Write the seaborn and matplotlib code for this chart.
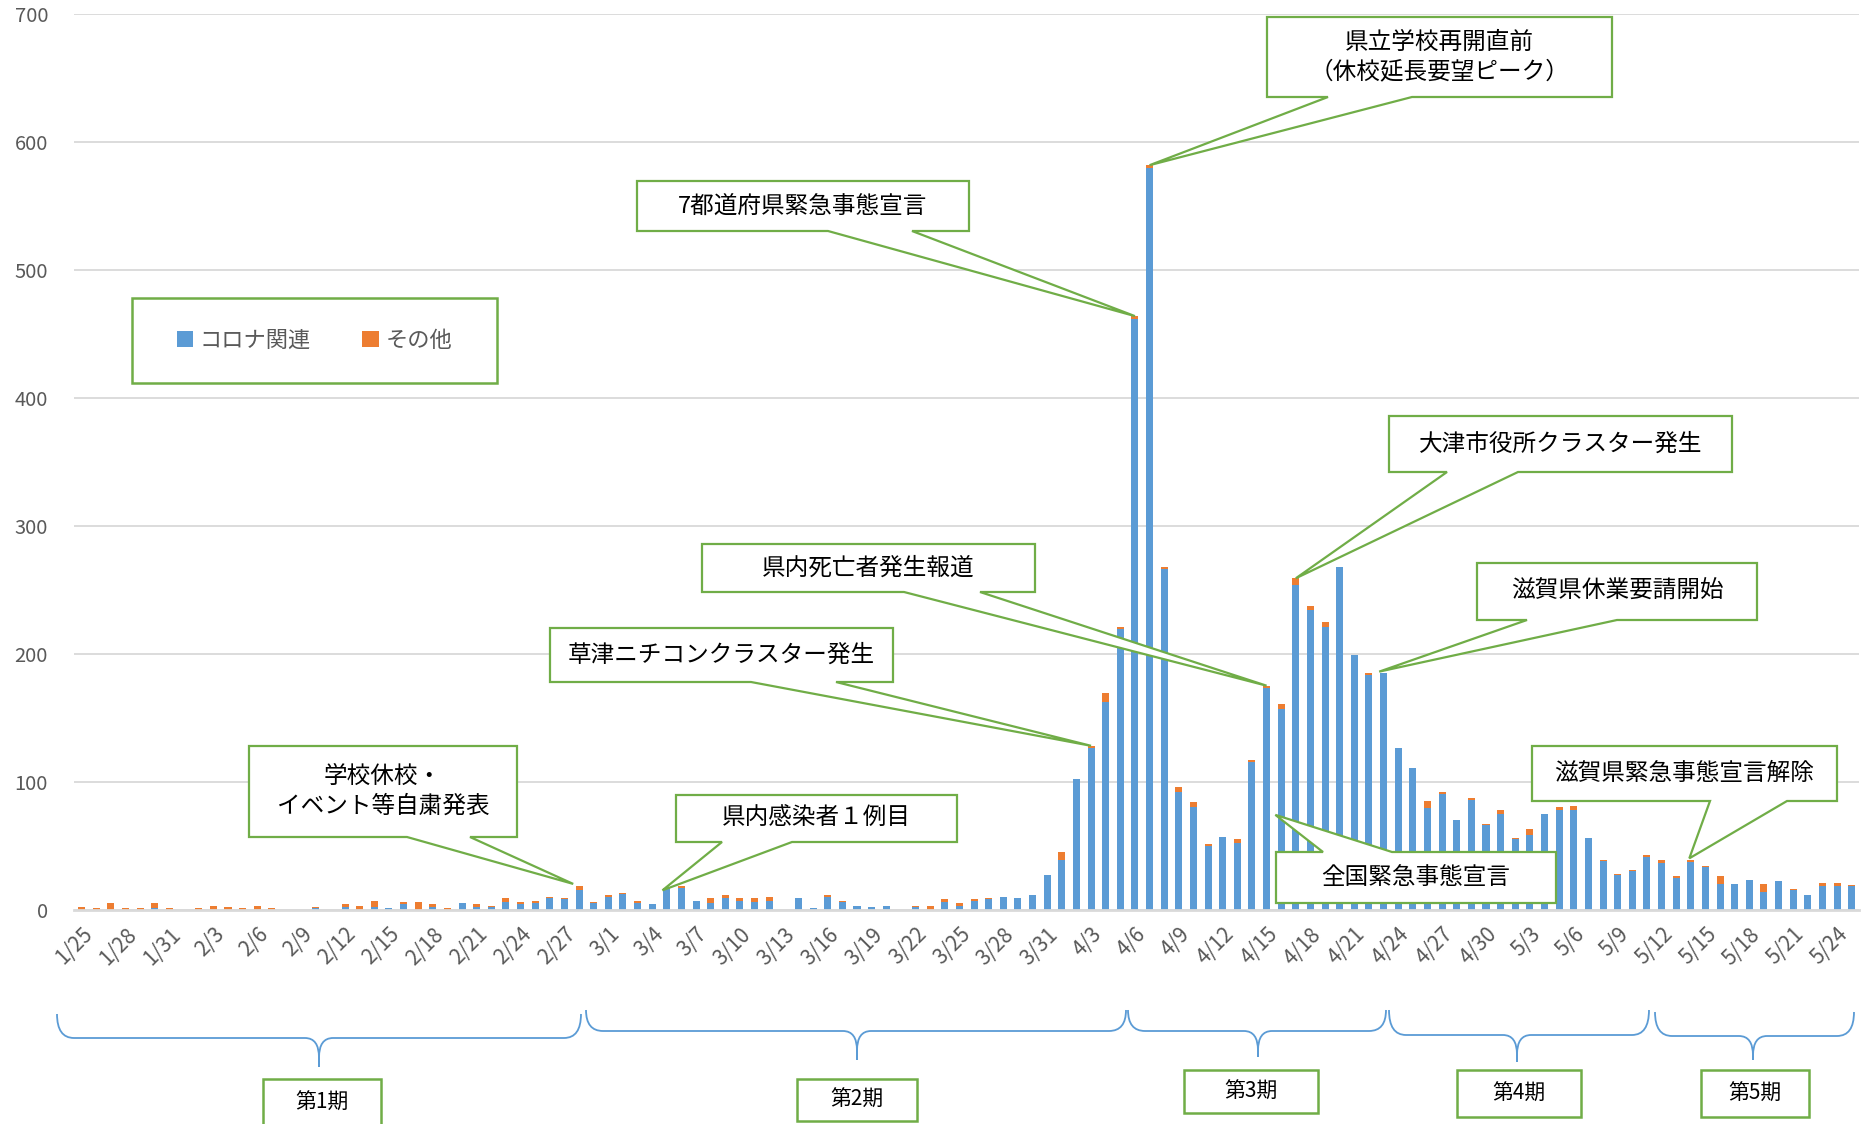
import numpy as np
import pandas as pd
import matplotlib
matplotlib.use("Agg")
import matplotlib.pyplot as plt
import seaborn as sns
from matplotlib.patches import Polygon, Rectangle, PathPatch
from matplotlib.path import Path

# -----------------------------
# data
# -----------------------------
dates = [f"{d.month}/{d.day}" for d in pd.date_range("2020-01-25", "2020-05-25")]

corona = [0, 0, 0, 0, 0, 1, 0, 0, 0, 0, 0, 0, 0, 0, 0, 0, 1, 0, 2, 0,
          2, 1, 4, 0, 2, 0, 5, 2, 2, 6, 4, 5, 9, 8, 15, 5, 10, 12, 5, 4,
          16, 17, 7, 5, 9, 7, 6, 7, 0, 9, 1, 10, 6, 3, 2, 3, 0, 2, 0, 6,
          3, 7, 8, 10, 9, 11, 27, 39, 102, 126, 162, 219, 462, 580, 266, 92, 80, 50, 57, 52,
          115, 173, 157, 254, 234, 221, 268, 199, 183, 185, 126, 111, 79, 90, 70, 86, 66, 75, 55, 58,
          75, 78, 78, 56, 38, 27, 30, 41, 36, 25, 37, 33, 20, 20, 23, 14, 22, 15, 11, 18,
          18, 18]
other = [2, 1, 5, 1, 1, 4, 1, 0, 1, 3, 2, 1, 3, 1, 0, 0, 1, 0, 2, 3,
         5, 0, 2, 6, 2, 1, 0, 2, 1, 3, 2, 2, 1, 1, 3, 1, 1, 1, 2, 0,
         1, 1, 0, 4, 2, 2, 3, 3, 0, 0, 0, 1, 1, 0, 0, 0, 0, 1, 3, 2,
         2, 1, 1, 0, 0, 0, 0, 6, 0, 2, 7, 2, 2, 2, 2, 4, 4, 1, 0, 3,
         2, 2, 4, 5, 3, 4, 0, 0, 2, 0, 0, 0, 6, 2, 0, 1, 1, 3, 1, 5,
         0, 2, 3, 0, 1, 1, 1, 2, 3, 1, 2, 1, 6, 0, 0, 6, 0, 1, 0, 3,
         3, 1]
tick_labels = dates[::3]
series_names = ["コロナ関連", "その他"]

callout_texts = ["県立学校再開直前\n（休校延長要望ピーク）", "7都道府県緊急事態宣言",
                 "大津市役所クラスター発生", "県内死亡者発生報道", "滋賀県休業要請開始",
                 "草津ニチコンクラスター発生", "学校休校・\nイベント等自粛発表",
                 "県内感染者１例目", "全国緊急事態宣言", "滋賀県緊急事態宣言解除"]
callout_dates = ["4/7", "4/6", "4/17", "4/15", "4/23", "4/3", "2/28", "3/5", "4/16", "5/14"]
callout_values = [582, 464, 259, 175, 186, 128, 20, 15, 74, 40]

period_labels = ["第1期", "第2期", "第3期", "第4期", "第5期"]

# -----------------------------
# layout (pixels of the 1869x1124 image)
# -----------------------------
W, H = 1869, 1124
BLUE, ORANGE, GREEN = "#5B9BD5", "#ED7D31", "#70AD47"
GRID, TXT = "#D9D9D9", "#595959"

# box x0, y0, x1, y1 / wedge base a, b / edge / tip x shift (in bars)
callout_boxes = [(1267, 17, 1612, 97), (637, 181, 969, 231), (1389, 416, 1732, 472),
                 (702, 544, 1035, 592), (1477, 563, 1757, 620), (550, 628, 893, 682),
                 (249, 746, 517, 837), (676, 795, 957, 842), (1276, 852, 1556, 903),
                 (1532, 746, 1837, 801)]
callout_bases = [(1328, 1412), (828, 912), (1447, 1518), (904, 980), (1527, 1617),
                 (751, 836), (407, 470), (722, 792), (1323, 1392), (1710, 1787)]
callout_edges = ["bottom"] * 8 + ["top", "bottom"]
callout_dx = [0, 0, 0, 0, -0.3, 0, -0.4, -0.3, -0.4, -0.1]

# brace: x0, x1, xm, ytop, yh, ybot
braces = [(57, 581, 319, 1014, 1038, 1067), (586, 1126, 857, 1010, 1031, 1060),
          (1128, 1386, 1258, 1010, 1031, 1057), (1389, 1649, 1517, 1010, 1035, 1062),
          (1655, 1854, 1753, 1012, 1036, 1060)]
period_boxes = [(263, 1079, 381, 1135), (797, 1079, 917, 1121), (1184, 1070, 1318, 1113),
                (1457, 1070, 1581, 1117), (1701, 1070, 1809, 1117)]

# -----------------------------
# figure
# -----------------------------
sns.set_style("white")
plt.rcParams["font.family"] = ["Noto Sans CJK JP", "DejaVu Sans"]

fig = plt.figure(figsize=(W / 100, H / 100), dpi=100)
ax = fig.add_axes([74.4 / W, 1 - 909.5 / H, (1859 - 74.4) / W, (909.5 - 14.3) / H])

totals = [c + o for c, o in zip(corona, other)]
sns.barplot(x=dates, y=totals, color=ORANGE, saturation=1, width=0.48, linewidth=0,
            errorbar=None, label=series_names[1], ax=ax)
sns.barplot(x=dates, y=corona, color=BLUE, saturation=1, width=0.48, linewidth=0,
            errorbar=None, label=series_names[0], ax=ax)

ax.set_xlim(-0.5, len(dates) - 0.5)
ax.set_ylim(0, 700)
ax.set_yticks(range(0, 701, 100))
ax.yaxis.grid(True, color=GRID, lw=1.3)
ax.set_axisbelow(True)
for s in ["left", "right", "top"]:
    ax.spines[s].set_visible(False)
ax.spines["bottom"].set_color(GRID)
ax.spines["bottom"].set_linewidth(2)
ax.set_xlabel("")
ax.set_ylabel("")

ax.set_xticks(range(0, len(dates), 3))
ax.set_xticklabels(tick_labels, rotation=45, ha="right", rotation_mode="anchor",
                   fontsize=15, color=TXT)
ax.set_xticks(np.arange(-0.5, len(dates), 1), minor=True)
ax.tick_params(axis="x", which="major", length=0, pad=10)
ax.tick_params(axis="x", which="minor", length=7, width=1.3, color=GRID, direction="out")
ax.tick_params(axis="y", length=0, pad=19, labelsize=14.5, labelcolor=TXT)

# legend in its green frame
h, l = ax.get_legend_handles_labels()
order = [l.index(n) for n in series_names]
ax.legend([h[i] for i in order], [l[i] for i in order], loc="center",
          bbox_to_anchor=(314.5 / W, 1 - 340.5 / H), bbox_transform=fig.transFigure,
          ncol=2, frameon=False, fontsize=16, labelcolor=TXT,
          handlelength=0.75, handleheight=0.75, handletextpad=0.3, columnspacing=2.3)

# overlay in pixel coordinates for callouts and braces
ov = fig.add_axes([0, 0, 1, 1])
ov.set_xlim(0, W)
ov.set_ylim(H, 0)
ov.axis("off")
ov.patch.set_alpha(0)

ov.add_patch(Rectangle((132, 298), 365, 85, fill=False, ec=GREEN, lw=1.8))


def tip_px(date, value, dx):
    x, y = ax.transData.transform((dates.index(date) + dx, value))
    return x, H - y


for text, d, v, box, base, edge, dx in zip(callout_texts, callout_dates, callout_values,
                                           callout_boxes, callout_bases, callout_edges,
                                           callout_dx):
    x0, y0, x1, y1 = box
    a, b = base
    tip = tip_px(d, v, dx)
    if edge == "bottom":
        pts = [(x0, y0), (x1, y0), (x1, y1), (b, y1), tip, (a, y1), (x0, y1)]
    else:
        pts = [(x0, y0), (a, y0), tip, (b, y0), (x1, y0), (x1, y1), (x0, y1)]
    ov.add_patch(Polygon(pts, closed=True, fc="white", ec=GREEN, lw=1.6, joinstyle="miter"))
    ov.text((x0 + x1) / 2, (y0 + y1) / 2, text, ha="center", va="center",
            fontsize=17, color="black", linespacing=1.35)


def brace_path(x0, x1, xm, ytop, yh, ybot, r=17, rt=14):
    verts, codes = [], []
    for xe, sgn in [(x0, 1), (x1, -1)]:
        verts += [(xe, ytop), (xe, yh), (xe + sgn * r, yh), (xm - sgn * rt, yh),
                  (xm, yh), (xm, yh + rt * 1.4), (xm, ybot)]
        codes += [Path.MOVETO, Path.CURVE3, Path.CURVE3, Path.LINETO,
                  Path.CURVE3, Path.CURVE3, Path.LINETO]
    return Path(verts, codes)


for br in braces:
    ov.add_patch(PathPatch(brace_path(*br), fill=False, ec=BLUE, lw=1.3))

for lab, (x0, y0, x1, y1) in zip(period_labels, period_boxes):
    ov.add_patch(Rectangle((x0, y0), x1 - x0, y1 - y0, fc="white", ec=GREEN, lw=1.8))
    yc = (y0 + min(y1, 1126)) / 2
    ov.text((x0 + x1) / 2, yc, lab, ha="center", va="center", fontsize=15, color="black")

fig.savefig("out.png", dpi=100)
